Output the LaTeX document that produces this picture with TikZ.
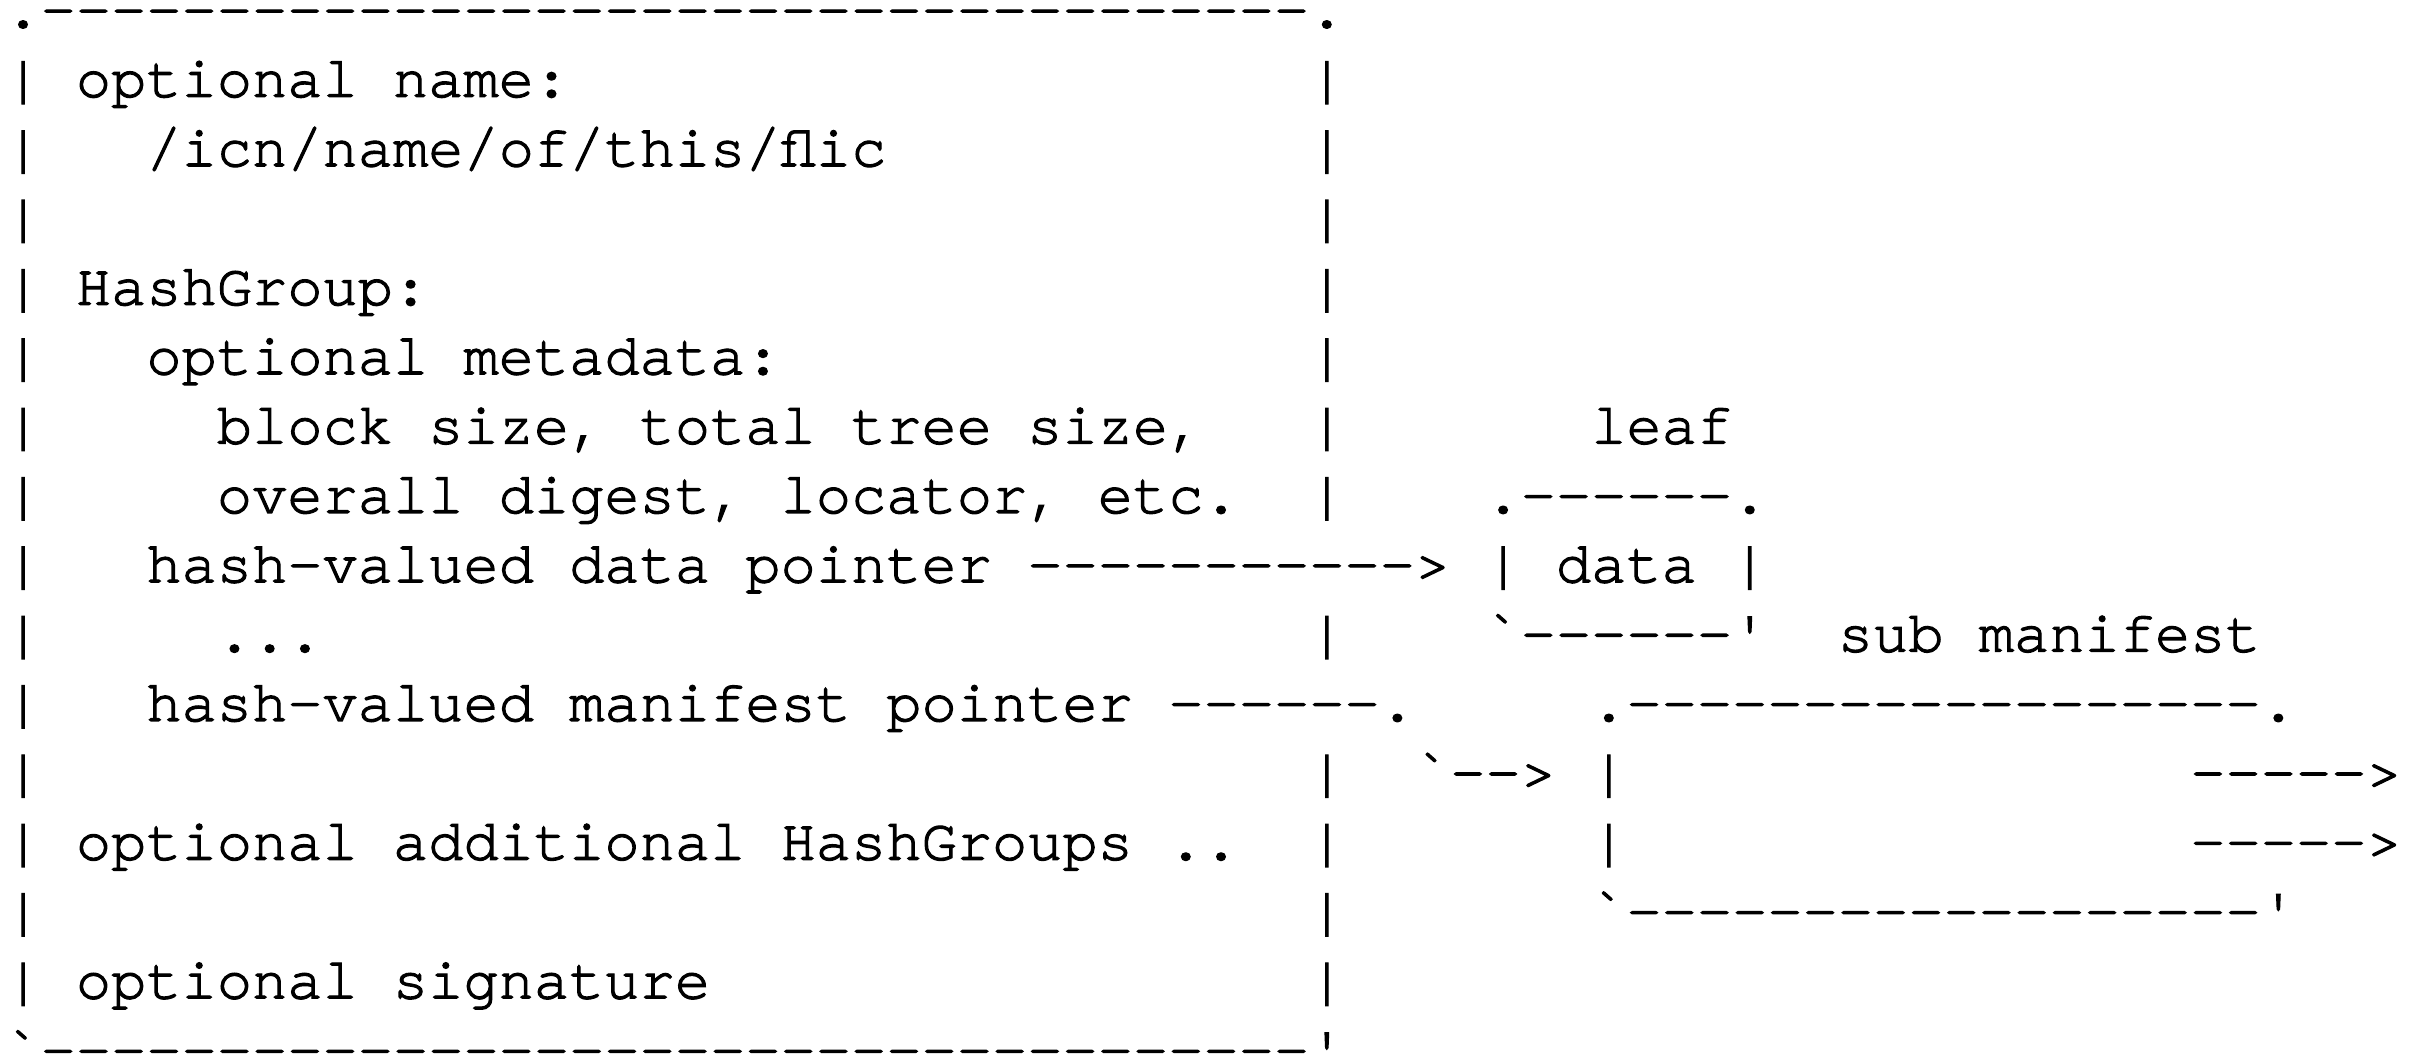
\documentclass[tikz,border=0pt]{standalone}
\usepackage{fontspec}
\newfontfamily\asciifont{TeX Gyre Cursor}[FakeBold=2]
\begin{document}
\begin{tikzpicture}[x=0.3524cm,y=-0.6935cm,
  txt/.style={anchor=base west,inner sep=0pt,outer sep=0pt,font=\asciifont\fontsize{16.71pt}{20pt}\selectfont}]
\useasboundingbox (-0.054cm,0.275cm) rectangle (24.136cm,-10.275cm);
\clip (-0.054cm,0.275cm) rectangle (24.136cm,-10.275cm);
\node[txt] (flictop) at (0,0) {.------------------------------------.};
\foreach \r in {1,...,14} \node[txt] (lbar\r) at (0,\r) {|};
\foreach \r in {1,...,7,9,11,12,13,14} \node[txt] (rbar\r) at (37,\r) {|};
\node[txt] (optname) at (2,1) {optional name:};
\node[txt] (icnname) at (4,2) {/icn/name/of/this/flic};
\node[txt] (hashgroup) at (2,4) {HashGroup:};
\node[txt] (optmeta) at (4,5) {optional metadata:};
\node[txt] (meta1) at (6,6) {block size, total tree size,};
\node[txt] (meta2) at (6,7) {overall digest, locator, etc.};
\node[txt] (dataptr) at (4,8) {hash-valued data pointer};
\node[txt] (dataarrow) at (29,8) {----------->};
\node[txt] (dots) at (6,9) {...};
\node[txt] (manptr) at (4,10) {hash-valued manifest pointer};
\node[txt] (manline) at (33,10) {------.};
\node[txt] (manarrow) at (40,11) {`-->};
\node[txt] (addgroups) at (2,12) {optional additional HashGroups ..};
\node[txt] (signature) at (2,14) {optional signature};
\node[txt] (flicbot) at (0,15) {`------------------------------------'};
\node[txt] (leaf) at (45,6) {leaf};
\node[txt] (leaftop) at (42,7) {.------.};
\node[txt] (data) at (42,8) {| data |};
\node[txt] (leafbot) at (42,9) {`------'};
\node[txt] (submanifest) at (52,9) {sub manifest};
\node[txt] (subtop) at (45,10) {.------------------.};
\foreach \r in {11,12} {
  \node[txt] (subbar\r) at (45,\r) {|};
  \node[txt] (subarrow\r) at (62,\r) {----->};
}
\node[txt] (subbot) at (45,13) {`------------------'};
\end{tikzpicture}
\end{document}
